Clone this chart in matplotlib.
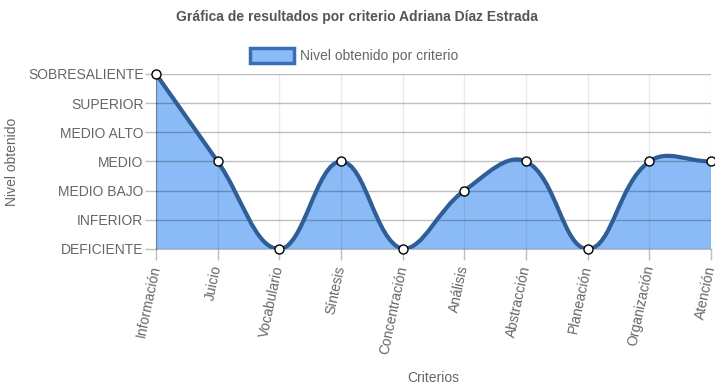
import numpy as np
import matplotlib
matplotlib.use("Agg")
import matplotlib.pyplot as plt
from matplotlib.path import Path
from matplotlib.patches import PathPatch

categories = ["Información", "Juicio", "Vocabulario", "Síntesis", "Concentración",
              "Análisis", "Abstracción", "Planeación", "Organización", "Atención"]
values = [6, 3, 0, 3, 0, 2, 3, 0, 3, 3]
level_labels = ["DEFICIENTE", "INFERIOR", "MEDIO BAJO", "MEDIO", "MEDIO ALTO",
                "SUPERIOR", "SOBRESALIENTE"]
series_name = "Nivel obtenido por criterio"
title = "Gráfica de resultados por criterio Adriana Díaz Estrada"

plt.rcParams['font.family'] = ['Liberation Sans', 'DejaVu Sans']
W, H = 715, 391
fig = plt.figure(figsize=(W/100, H/100), dpi=100)
L, R, T, B = 156, 711, 74, 249
ax = fig.add_axes([L/W, 1-B/H, (R-L)/W, (B-T)/H])

n = len(values)
xs = np.arange(n, dtype=float)
ys = np.array(values, dtype=float)
ax.set_xlim(0, n-1)
ax.set_ylim(0, len(level_labels)-1)

# Chart.js style spline (tension 0.4) computed in pixel space
sx = (R-L)/(n-1)
sy = (B-T)/(len(level_labels)-1)
px, py = xs*sx, ys*sy
t = 0.4
cpl, cpr = [], []
for i in range(n):
    p0 = (px[max(i-1, 0)], py[max(i-1, 0)])
    p1 = (px[i], py[i])
    p2 = (px[min(i+1, n-1)], py[min(i+1, n-1)])
    d01 = np.hypot(p1[0]-p0[0], p1[1]-p0[1])
    d12 = np.hypot(p2[0]-p1[0], p2[1]-p1[1])
    tot = d01 + d12
    s01 = d01/tot if tot else 0
    s12 = d12/tot if tot else 0
    fa, fb = t*s01, t*s12
    cpl.append((p1[0]-fa*(p2[0]-p0[0]), p1[1]-fa*(p2[1]-p0[1])))
    cpr.append((p1[0]+fb*(p2[0]-p0[0]), p1[1]+fb*(p2[1]-p0[1])))
ymax = py.max()
def clampy(v):
    return min(max(v, 0), (len(level_labels)-1)*sy)
verts = [(xs[0], ys[0])]
codes = [Path.MOVETO]
for i in range(n-1):
    c1 = (cpr[i][0]/sx, clampy(cpr[i][1])/sy)
    c2 = (cpl[i+1][0]/sx, clampy(cpl[i+1][1])/sy)
    verts += [c1, c2, (xs[i+1], ys[i+1])]
    codes += [Path.CURVE4]*3
line_path = Path(verts, codes)
fill_verts = verts + [(xs[-1], 0), (xs[0], 0), (xs[0], ys[0])]
fill_codes = codes + [Path.LINETO, Path.LINETO, Path.CLOSEPOLY]
fill_path = Path(fill_verts, fill_codes)

fill_color = '#8BBBF7'
line_color = '#2F5E97'
ax.add_patch(PathPatch(fill_path, facecolor=fill_color, edgecolor='none', zorder=1))
# grid
for yv in range(len(level_labels)):
    ax.axhline(yv, color=(0, 0, 0, 0.25), lw=1, zorder=2)
for xv in xs:
    ax.axvline(xv, color=(0, 0, 0, 0.08), lw=1, zorder=2)
ax.add_patch(PathPatch(line_path, facecolor='none', edgecolor=line_color, lw=3, zorder=3,
                       capstyle='round', joinstyle='round'))
ax.plot(xs, ys, 'o', ms=6.5, mfc='white', mec='black', mew=1, zorder=4, clip_on=False)

for s in ['top', 'right']:
    ax.spines[s].set_visible(False)
for s in ['left', 'bottom']:
    ax.spines[s].set_color((0, 0, 0, 0.25))
ax.set_yticks(range(len(level_labels)))
ax.set_yticklabels(level_labels)
ax.set_xticks(xs)
ax.set_xticklabels(categories, rotation=78, ha='right', va='center', rotation_mode='anchor')
ax.tick_params(axis='both', colors=(0, 0, 0, 0.25), labelcolor='#666666', labelsize=10, length=8, width=1)
ax.tick_params(axis='y', pad=1)
ax.tick_params(axis='x', pad=4)

fig.text(433/W, 1-378/H, "Criterios", ha='center', va='center', fontsize=10, color='#666666')
fig.text(12/W, 1-162/H, "Nivel obtenido", ha='center', va='center', rotation=90, fontsize=10, color='#666666')
fig.text(357/W, 1-17/H, title, ha='center', va='center', fontsize=10, fontweight='bold', color='#555555')

# legend
lx0, ly0, lw_, lh_ = 250, 48, 44, 15
fig.patches.append(matplotlib.patches.Rectangle((lx0/W, 1-(ly0+lh_)/H), lw_/W, lh_/H,
                   transform=fig.transFigure, facecolor=fill_color, edgecolor='#3A6DB3', lw=2.5))
fig.text(300/W, 1-56/H, series_name, ha='left', va='center', fontsize=10, color='#666666')

fig.savefig("out.png", dpi=100)
